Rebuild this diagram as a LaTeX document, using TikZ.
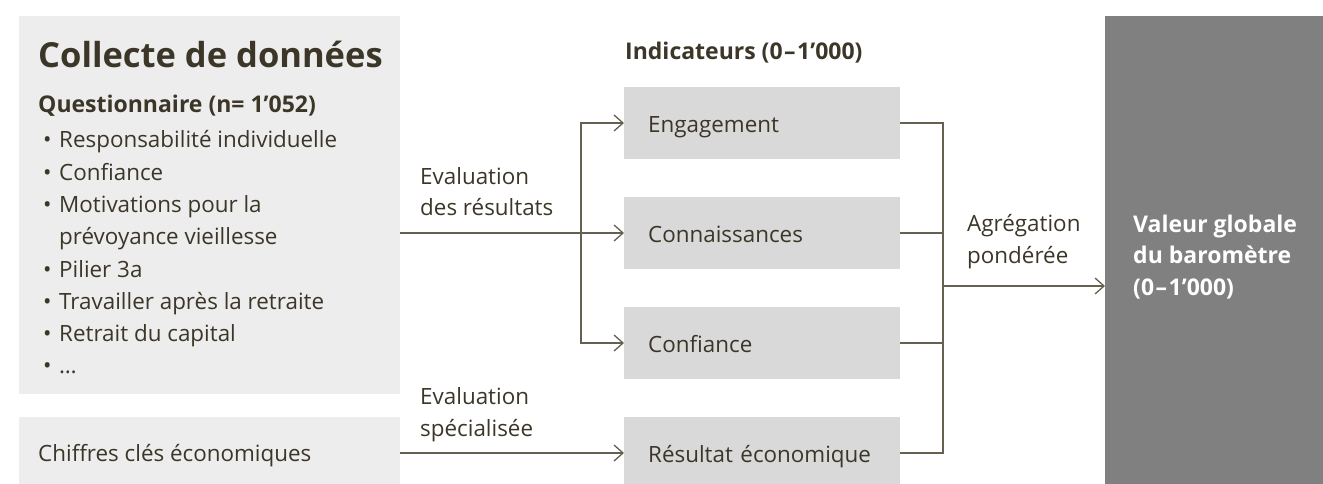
\documentclass[tikz,border=0pt]{standalone}
\usepackage{fontspec}
\setmainfont{Open Sans}
\usetikzlibrary{arrows.meta,calc}
\definecolor{txt}{HTML}{3B3628}
\definecolor{ln}{HTML}{65604F}
\definecolor{lightbox}{HTML}{EDEDED}
\definecolor{midbox}{HTML}{D9D9D9}
\definecolor{darkbox}{HTML}{7F807F}
\newcommand{\rangedash}{\kern1.5pt–\kern1.5pt}
\tikzset{
  body/.style={font=\fontsize{22.4}{31}\selectfont, text=txt, inner sep=0pt, anchor=base west},
  boldlbl/.style={font=\fontsize{23}{31}\selectfont\bfseries, text=txt, inner sep=0pt, anchor=base west},
  panel/.style={fill=lightbox, draw=none, inner sep=0pt, anchor=north west, minimum width=381pt},
  indic/.style={fill=midbox, draw=none, anchor=west, minimum width=276pt, minimum height=72pt,
    text width=228pt, align=left, inner xsep=24pt, inner ysep=0pt, text height=19pt, text depth=0pt,
    font=\fontsize{22.4}{31}\selectfont, text=txt},
  conn/.style={draw=ln, line width=1.3pt},
  arr/.style={conn, -{Straight Barb[length=9pt,width=16pt]}}
}
\begin{document}
\begin{tikzpicture}[x=1pt,y=-1pt]
\useasboundingbox (0,0) rectangle (1323,484);
\clip (0,0) rectangle (1323,484);
% panels
\node[panel, minimum height=378pt] (collecte) at (19,16) {};
\node[panel, minimum height=72pt] (chiffres) at (19,417) {};
\node[fill=darkbox, draw=none, inner sep=0pt, anchor=north west, minimum width=230pt, minimum height=480pt] (baro) at (1105,16) {};
% indicator boxes
\node[indic] (eng)  at (624,123) {Engagement};
\node[indic] (conn) at (624,233) {Connaissances};
\node[indic] (conf) at (624,343) {Confiance};
\node[indic] (res)  at (624,453) {Résultat économique};
% collecte texts
\node[body, font=\fontsize{34.5}{40}\selectfont\bfseries] (title) at (38,68) {Collecte de données};
\node[boldlbl] (quest) at (38,113) {Questionnaire (n= 1’052)};
\node[body] (b1) at (43,148) {\makebox[16pt][l]{•}Responsabilité individuelle};
\node[body] (b2) at (43,180.5) {\makebox[16pt][l]{•}Confiance};
\node[body] (b3) at (43,212.5) {\makebox[16pt][l]{•}Motivations pour la};
\node[body] (b3b) at (59,244.5) {prévoyance vieillesse};
\node[body] (b4) at (43,277) {\makebox[16pt][l]{•}Pilier 3a};
\node[body] (b5) at (43,309) {\makebox[16pt][l]{•}Travailler après la retraite};
\node[body] (b6) at (43,341) {\makebox[16pt][l]{•}Retrait du capital};
\node[body] (b7) at (43,373) {\makebox[16pt][l]{•}…};
\node[body] (chtxt) at (38,461) {Chiffres clés économiques};
% headers and labels
\node[boldlbl] (indhdr) at (625,60) {Indicateurs (0\rangedash1’000)};
\node[body] (ev1a) at (420,184) {Evaluation};
\node[body] (ev1b) at (420,215) {des résultats};
\node[body] (ev2a) at (420,404) {Evaluation};
\node[body] (ev2b) at (420,436) {spécialisée};
\node[body] (agg1) at (967,231) {Agrégation};
\node[body] (agg2) at (967,263) {pondérée};
\node[boldlbl, text=white] (v1) at (1133,232) {Valeur globale};
\node[boldlbl, text=white] (v2) at (1133,263.5) {du baromètre};
\node[boldlbl, text=white] (v3) at (1133,295) {(0\rangedash1’000)};
% connectors left
\coordinate (split) at (581,233);
\draw[arr] (collecte.east |- conn.west) -- (conn.west);
\draw[arr] (split) |- (eng.west);
\draw[arr] (split) |- (conf.west);
\draw[arr] (chiffres.east |- res.west) -- (res.west);
% connectors right
\coordinate (join) at (943,286);
\draw[conn] (eng.east) -- (eng.east -| join) -- (res.east -| join) -- (res.east);
\draw[conn] (conn.east) -- (conn.east -| join);
\draw[conn] (conf.east) -- (conf.east -| join);
\draw[arr] (join) -- (join -| baro.west);
\end{tikzpicture}
\end{document}
